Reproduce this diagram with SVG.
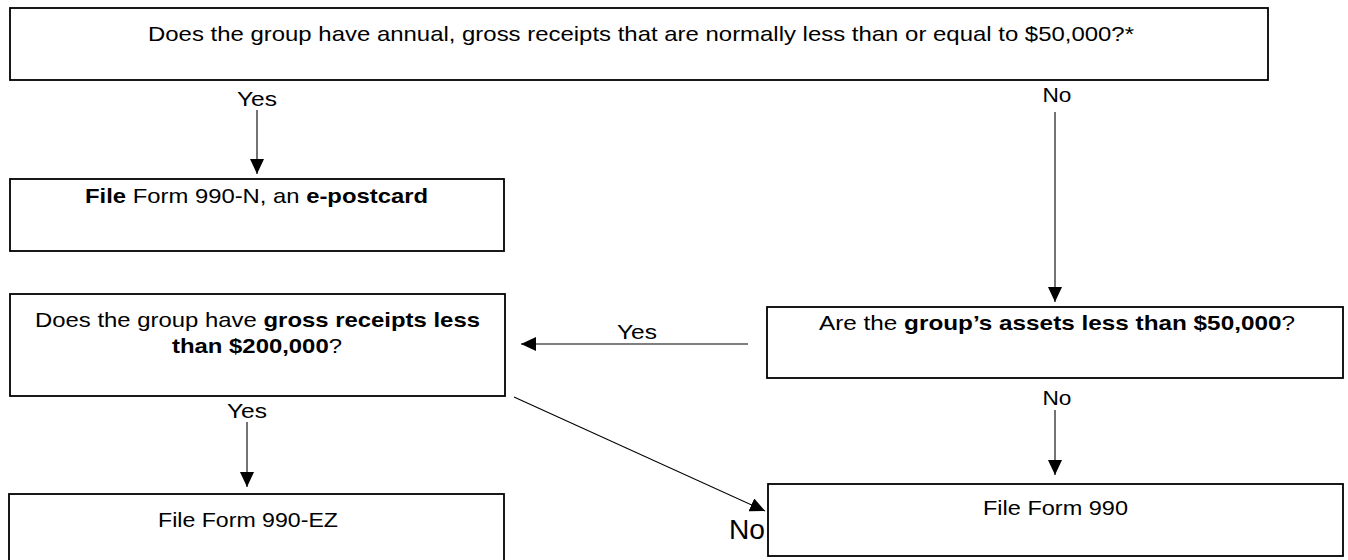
<svg xmlns="http://www.w3.org/2000/svg" width="1348" height="560" viewBox="0 0 1348 560">
<style>
rect.box{fill:#fff;stroke:#000;stroke-width:1.8}
text{font-family:"Liberation Sans",Arial,sans-serif;font-size:21px;fill:#000;text-anchor:middle}
.b{font-weight:bold}
line.c{stroke:#000;stroke-width:1.1;marker-end:url(#ah)}
</style>
<defs>
<marker id="ah" markerUnits="userSpaceOnUse" markerWidth="15" markerHeight="14" refX="15" refY="7" orient="auto">
<path d="M0,0 L15,7 L0,14 z" fill="#000"/>
</marker>
</defs>
<rect width="1348" height="560" fill="#fff"/>
<g id="q1">
<rect class="box" x="10" y="8" width="1258" height="72"/>
<text x="641" y="41" textLength="986" lengthAdjust="spacingAndGlyphs">Does the group have annual, gross receipts that are normally less than or equal to $50,000?*</text>
</g>
<g id="n990n">
<rect class="box" x="10" y="179" width="494" height="72"/>
<text x="256.5" y="203" textLength="343" lengthAdjust="spacingAndGlyphs"><tspan class="b">File</tspan> Form 990-N, an <tspan class="b">e-postcard</tspan></text>
</g>
<g id="q2">
<rect class="box" x="10" y="294" width="495" height="102"/>
<text x="257.5" y="327" textLength="445" lengthAdjust="spacingAndGlyphs">Does the group have <tspan class="b">gross receipts less</tspan></text>
<text x="257" y="353" textLength="170" lengthAdjust="spacingAndGlyphs"><tspan class="b">than $200,000</tspan>?</text>
</g>
<g id="q3">
<rect class="box" x="767" y="307" width="576" height="71"/>
<text x="1057" y="330" textLength="476" lengthAdjust="spacingAndGlyphs">Are the <tspan class="b">group’s assets less than $50,000</tspan>?</text>
</g>
<g id="n990ez">
<rect class="box" x="9" y="494" width="495" height="72"/>
<text x="248" y="527" textLength="180" lengthAdjust="spacingAndGlyphs">File Form 990-EZ</text>
</g>
<g id="n990">
<rect class="box" x="768" y="484" width="575" height="72"/>
<text x="1055.5" y="515" textLength="145" lengthAdjust="spacingAndGlyphs">File Form 990</text>
</g>
<g id="connectors">
<line class="c" x1="257" y1="110" x2="257" y2="174"/>
<line class="c" x1="1055" y1="112" x2="1055" y2="302"/>
<line class="c" x1="748" y1="344" x2="521" y2="344"/>
<line class="c" x1="247" y1="422" x2="247" y2="487"/>
<line class="c" x1="1055" y1="410" x2="1055" y2="475"/>
<line class="c" x1="514" y1="397" x2="765" y2="511"/>
<text x="257" y="106" textLength="40" lengthAdjust="spacingAndGlyphs">Yes</text>
<text x="1057" y="102" textLength="29" lengthAdjust="spacingAndGlyphs">No</text>
<text x="637" y="339" textLength="40" lengthAdjust="spacingAndGlyphs">Yes</text>
<text x="1057" y="405" textLength="29" lengthAdjust="spacingAndGlyphs">No</text>
<text x="247" y="418" textLength="40" lengthAdjust="spacingAndGlyphs">Yes</text>
<text x="747" y="539" style="font-size:28px" textLength="36" lengthAdjust="spacingAndGlyphs">No</text>
</g>
</svg>
